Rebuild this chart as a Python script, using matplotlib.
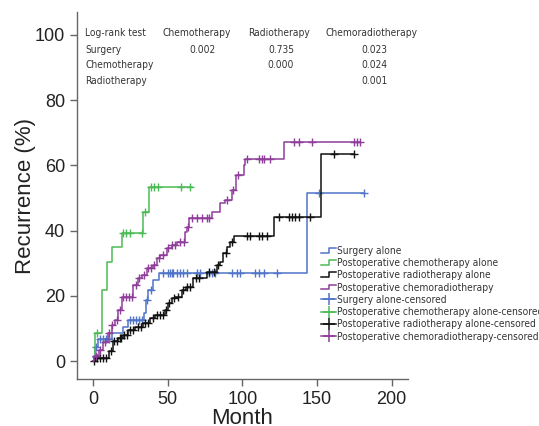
import numpy as np
import matplotlib
matplotlib.use("Agg")
import matplotlib.pyplot as plt
from matplotlib import font_manager
from matplotlib.legend_handler import HandlerBase
from matplotlib.lines import Line2D

# pick a narrow face if there is one
narrow = None
for f in font_manager.fontManager.ttflist:
    if 'Narrow' in f.name or f.stretch in ('condensed', 'semi-condensed', 'extra-condensed'):
        narrow = f
        break
if narrow is not None:
    small_font = dict(family=[narrow.name, 'DejaVu Sans'], stretch=narrow.stretch)
else:
    small_font = dict(family=['Liberation Sans', 'DejaVu Sans'])

# step curves: event times (months) and cumulative recurrence (%)
surg_t = [0, 1.5, 3.5, 13, 20, 23.5, 34, 35.5, 37, 40.5, 44, 143.4]
surg_v = [1.3, 4.4, 6.7, 8.5, 10.5, 12.6, 14.6, 18.7, 21.8, 24.8, 27.1, 51.6]
surg_end = 181.4
surg_cens = [2, 5, 7, 9, 11, 25, 27, 29, 31, 33, 36, 39, 47.2, 50.5, 51.7, 52.8,
             53.9, 56.2, 58.4, 60.6, 62.9, 69.6, 71.8, 77.4, 79.7, 81.9, 93,
             96.4, 98.7, 108.7, 110.9, 114.3, 123.3, 151.2, 181.4]

chemo_t = [0, 1.5, 5.8, 9.2, 12.5, 19.2, 33.8, 37.8]
chemo_v = [0, 8.5, 21.8, 30.5, 35, 39.4, 45.8, 53.3]
chemo_end = 66
chemo_cens = [3, 20, 22, 25, 32.7, 35, 38.9, 41.1, 43.4, 59, 64.7]

radio_t = [0, 2, 11, 13.6, 17, 20.3, 23.7, 28.2, 33.8, 38.3, 41.6, 48.3, 50.5,
           52.8, 55, 59.5, 62, 67.3, 76.3, 83, 85.2, 87.4, 89.7, 92, 94.2,
           121, 152.8]
radio_v = [0, 0.8, 3, 6, 7, 8, 9.5, 10.5, 11.6, 13.1, 14.1, 15.6, 17.7,
           19.2, 19.7, 21.8, 22.8, 25.4, 27.4, 29.4, 30.5, 33, 35, 36.6, 38.4,
           44.1, 63.4]
radio_end = 175
radio_cens = [1, 3, 5, 7, 9, 12, 14, 16, 18, 19, 21, 22.5, 25, 27, 30, 32, 35,
              37, 40, 43, 45, 47, 49, 51, 54, 57, 60, 63, 65, 69, 71, 78, 81,
              84, 89, 93, 103, 105.4, 110.9, 113.2, 116.6, 124.8, 131.1, 133.4,
              135.6, 137.8, 145.6, 161.3, 175]

crt_t = [0, 1, 4, 7, 10, 12.5, 14.8, 17, 19.2, 27, 30.4, 32.7, 36, 40.5, 42.7,
         45, 49.4, 52.8, 56.2, 61.7, 62.9, 64, 79.7, 85.2, 88.6, 93, 96, 101,
         102, 127.7]
crt_v = [0, 1.5, 3.5, 5.9, 8.5, 11, 12.6, 15.6, 19.7, 23.3, 25.4, 26.4, 28.4,
         29.4, 31.5, 32.5, 34.6, 35.6, 36.6, 39.7, 41.2, 43.8, 45.8, 48.4,
         49.4, 52.5, 57, 60, 61.9, 67.3]
crt_end = 179
crt_cens = [2, 5, 8, 11, 13, 16, 18, 20, 22, 24, 26, 29, 31, 34, 37, 39, 41,
            44, 47, 50, 53, 55, 58, 61, 63.5, 66.2, 69.6, 73, 76.3, 78, 90, 94,
            97, 103, 110.9, 113.2, 114.3, 118.8, 134.4, 137.8, 146.8, 174.7,
            177, 178.7]

labels = ['Surgery alone', 'Postoperative chemotherapy alone',
          'Postoperative radiotherapy alone', 'Postoperative chemoradiotherapy']
colors = ['#4f74c8', '#4dbb55', '#111111', '#8e3d99']

lr_cols = ['Chemotherapy', 'Radiotherapy', 'Chemoradiotherapy']
lr_rows = ['Surgery', 'Chemotherapy', 'Radiotherapy']
lr_p = [['0.002', '0.735', '0.023'],
        ['', '0.000', '0.024'],
        ['', '', '0.001']]


class StepHandler(HandlerBase):
    def __init__(self, color):
        super().__init__()
        self.color = color

    def create_artists(self, legend, orig, xd, yd, w, h, fs, trans):
        xs = [xd, xd + w * 0.55, xd + w * 0.55, xd + w]
        ys = [yd + h * 0.2, yd + h * 0.2, yd + h * 0.85, yd + h * 0.85]
        ln = Line2D(xs, ys, color=self.color, lw=1.1, transform=trans)
        return [ln]


def step_val(t, v, x):
    i = np.searchsorted(t, x, side='right') - 1
    return np.array(v)[i]


fig = plt.figure(figsize=(5.39, 4.26), dpi=100)
ax = fig.add_axes([77 / 539, 47 / 426, 331 / 539, 367 / 426])

groups = [(surg_t, surg_v, surg_end, surg_cens),
          (chemo_t, chemo_v, chemo_end, chemo_cens),
          (radio_t, radio_v, radio_end, radio_cens),
          (crt_t, crt_v, crt_end, crt_cens)]

step_handles = []
cens_handles = []
for (t, v, end, cens), lab, col in zip(groups, labels, colors):
    ax.step(list(t) + [end], list(v) + [v[-1]], where='post', color=col, lw=1.1)
    cy = step_val(t, v, np.array(cens))
    ax.plot(cens, cy, ls='none', marker='+', ms=6, mew=1.0, color=col)
    step_handles.append(Line2D([], [], color=col))
    cens_handles.append(Line2D([], [], color=col, lw=1.1, marker='+', ms=8, mew=1.1))

ax.set_xlim(-10.7, 211)
ax.set_ylim(-5.5, 107)
ax.set_xticks([0, 50, 100, 150, 200])
ax.set_yticks([0, 20, 40, 60, 80, 100])
for s in ['top', 'right']:
    ax.spines[s].set_visible(False)
for s in ['left', 'bottom']:
    ax.spines[s].set_color('#666666')
    ax.spines[s].set_linewidth(1.0)
ax.tick_params(colors='#666666', labelcolor='#222222', labelsize=13,
               length=5, width=1.0)
for lb in ax.get_xticklabels() + ax.get_yticklabels():
    lb.set_family(['Liberation Sans', 'DejaVu Sans'])
ax.set_xlabel('Month', fontsize=16, family=['Liberation Sans', 'DejaVu Sans'],
              color='#222222', labelpad=0)
ax.set_ylabel('Recurrence (%)', fontsize=16, family=['Liberation Sans', 'DejaVu Sans'],
              color='#222222', labelpad=-1)

# log-rank table
tf = 7.3
row_y = [33, 50, 65, 81]
col_x = [197, 279, 371]
fig.text(85 / 539, 1 - row_y[0] / 426, 'Log-rank test', fontsize=tf,
         va='center', ha='left', color='#333333', **small_font)
for cx, c in zip(col_x, lr_cols):
    fig.text(cx / 539, 1 - row_y[0] / 426, c, fontsize=tf, va='center',
             ha='center', color='#333333', **small_font)
for ry, r, pv in zip(row_y[1:], lr_rows, lr_p):
    fig.text(85 / 539, 1 - ry / 426, r, fontsize=tf, va='center', ha='left',
             color='#333333', **small_font)
    for cx, p in zip([202, 281, 374], pv):
        if p:
            fig.text(cx / 539, 1 - ry / 426, p, fontsize=tf, va='center',
                     ha='center', color='#333333', **small_font)

hmap = {h: StepHandler(c) for h, c in zip(step_handles, colors)}
lf = 7.3
leg = fig.legend(step_handles + cens_handles,
                 labels + [l + '-censored' for l in labels],
                 handler_map=hmap, loc='upper left',
                 bbox_to_anchor=(321 / 539, 1 - 246 / 426),
                 frameon=False, prop=dict(size=lf, **small_font),
                 labelspacing=0.22, handlelength=1.5, handletextpad=0.12,
                 borderpad=0, borderaxespad=0)
for tx in leg.get_texts():
    tx.set_color('#333333')

fig.savefig('out.png', dpi=100)
